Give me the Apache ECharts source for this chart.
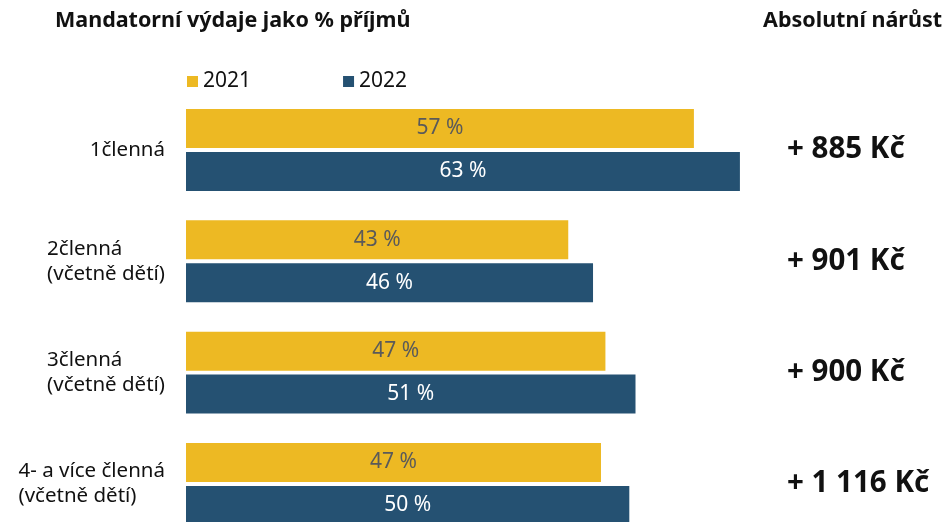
<!DOCTYPE html>
<html>
<head>
<meta charset="utf-8">
<script src="https://cdn.jsdelivr.net/npm/echarts@6/dist/echarts.min.js"></script>
<style>
  html, body { margin: 0; padding: 0; background: #fff; }
  #chart { width: 951px; height: 522px; }
</style>
</head>
<body>
<div id="chart"></div>
<script>
  // data (bar lengths, labels show rounded %)
  const categories = ['1členná', '2členná\n(včetně dětí)', '3členná\n(včetně dětí)', '4- a více členná\n(včetně dětí)'];
  const years = ['2021', '2022'];
  const values2021 = [57.4, 43.2, 47.4, 46.9];
  const values2022 = [62.6, 46.0, 50.8, 50.1];
  const increments = ['+ 885 Kč', '+ 901 Kč', '+ 900 Kč', '+ 1 116 Kč'];

  const FONT = 'Noto Sans';
  const YELLOW = '#edb923';
  const BLUE = '#255172';

  const pct = p => Math.round(p.value) + ' %';

  const myChart = echarts.init(document.getElementById('chart'));
  const option = {
    animation: false,
    textStyle: { fontFamily: FONT },
    title: [
      {
        text: 'Mandatorní výdaje jako % příjmů',
        left: 50, top: 5,
        textStyle: { fontSize: 21.5, fontWeight: 'bold', color: '#111', fontFamily: FONT }
      },
      {
        text: 'Absolutní nárůst',
        right: 4, top: 5,
        textStyle: { fontSize: 21.5, fontWeight: 'bold', color: '#111', fontFamily: FONT }
      }
    ],
    legend: {
      data: years,
      left: 182, top: 66,
      icon: 'rect',
      itemWidth: 11, itemHeight: 11,
      itemGap: 92,
      textStyle: { fontSize: 21, color: '#111', fontFamily: FONT }
    },
    grid: { left: 186, top: 94.3, height: 445.3, right: 181, outerBoundsMode: 'none', containLabel: false },
    xAxis: {
      type: 'value', min: 0, max: 66,
      show: false
    },
    yAxis: [
      {
        type: 'category', data: categories, inverse: true,
        axisLine: { show: false }, axisTick: { show: false },
        axisLabel: {
          margin: 21, color: '#111',
          formatter: v => v.split('\n').map(l => '{a|' + l + '}').join('\n'),
          rich: { a: { align: 'left', fontSize: 20.5, lineHeight: 25, color: '#111', fontFamily: FONT } }
        }
      },
      {
        type: 'category', data: increments, inverse: true, position: 'right',
        axisLine: { show: false }, axisTick: { show: false },
        axisLabel: {
          margin: 17, align: 'left',
          fontSize: 29.5, fontWeight: 'bold', color: '#111', fontFamily: FONT
        }
      }
    ],
    series: [
      {
        name: years[0], type: 'bar', data: values2021,
        barWidth: 39, barGap: '10%',
        itemStyle: { color: YELLOW },
        label: { show: true, position: 'inside', formatter: pct, fontSize: 21, color: '#5a5a5a', fontFamily: FONT }
      },
      {
        name: years[1], type: 'bar', data: values2022,
        barWidth: 39,
        itemStyle: { color: BLUE },
        label: { show: true, position: 'inside', formatter: pct, fontSize: 21, color: '#fff', fontFamily: FONT }
      }
    ]
  };
  myChart.setOption(option);
</script>
</body>
</html>
